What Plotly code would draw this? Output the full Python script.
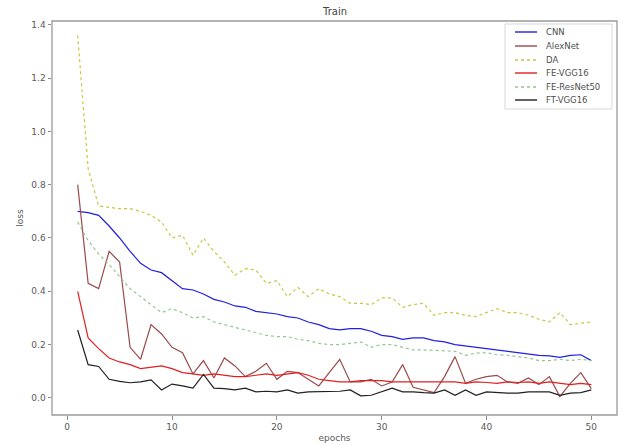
import plotly.graph_objects as go

epochs = list(range(1, 51))

cnn = [0.70, 0.695, 0.685, 0.645, 0.60, 0.55, 0.505, 0.48, 0.47, 0.44,
       0.41, 0.405, 0.39, 0.37, 0.36, 0.345, 0.34, 0.325, 0.32, 0.315,
       0.305, 0.30, 0.285, 0.275, 0.26, 0.255, 0.26, 0.26, 0.25, 0.235,
       0.23, 0.22, 0.225, 0.225, 0.215, 0.21, 0.20, 0.195, 0.19, 0.185,
       0.18, 0.175, 0.17, 0.165, 0.16, 0.158, 0.152, 0.16, 0.162, 0.14]

alexnet = [0.80, 0.43, 0.41, 0.55, 0.51, 0.19, 0.145, 0.275, 0.24, 0.19,
           0.17, 0.09, 0.14, 0.075, 0.15, 0.12, 0.08, 0.10, 0.13, 0.07,
           0.10, 0.095, 0.07, 0.045, 0.095, 0.145, 0.06, 0.06, 0.07, 0.045,
           0.06, 0.125, 0.04, 0.03, 0.02, 0.08, 0.155, 0.055, 0.07, 0.08,
           0.085, 0.06, 0.055, 0.075, 0.05, 0.08, 0.005, 0.055, 0.095, 0.035]

da = [1.36, 0.86, 0.72, 0.715, 0.71, 0.71, 0.70, 0.685, 0.66, 0.60,
      0.61, 0.535, 0.60, 0.55, 0.51, 0.46, 0.485, 0.48, 0.43, 0.44,
      0.38, 0.415, 0.38, 0.41, 0.39, 0.38, 0.355, 0.355, 0.35, 0.375,
      0.375, 0.34, 0.35, 0.355, 0.31, 0.32, 0.32, 0.31, 0.305, 0.32,
      0.335, 0.32, 0.32, 0.31, 0.295, 0.285, 0.32, 0.275, 0.28, 0.285]

fe_vgg16 = [0.40, 0.225, 0.185, 0.15, 0.135, 0.125, 0.11, 0.115, 0.12, 0.11,
            0.095, 0.09, 0.085, 0.09, 0.085, 0.08, 0.08, 0.085, 0.09, 0.085,
            0.09, 0.095, 0.085, 0.07, 0.065, 0.06, 0.06, 0.065, 0.065, 0.065,
            0.06, 0.06, 0.06, 0.058, 0.06, 0.058, 0.06, 0.055, 0.06, 0.058,
            0.055, 0.06, 0.058, 0.06, 0.055, 0.06, 0.055, 0.05, 0.055, 0.05]

fe_resnet50 = [0.66, 0.59, 0.54, 0.50, 0.455, 0.41, 0.38, 0.35, 0.32, 0.335,
               0.32, 0.30, 0.305, 0.285, 0.275, 0.265, 0.255, 0.245, 0.235, 0.23,
               0.23, 0.22, 0.215, 0.205, 0.20, 0.20, 0.205, 0.21, 0.19, 0.20,
               0.20, 0.19, 0.18, 0.18, 0.178, 0.175, 0.175, 0.16, 0.168, 0.17,
               0.162, 0.16, 0.155, 0.15, 0.14, 0.14, 0.145, 0.14, 0.145, 0.14]

ft_vgg16 = [0.255, 0.125, 0.118, 0.07, 0.062, 0.057, 0.06, 0.068, 0.03, 0.052,
            0.045, 0.037, 0.088, 0.037, 0.035, 0.03, 0.037, 0.023, 0.025, 0.023,
            0.03, 0.018, 0.023, 0.023, 0.023, 0.025, 0.03, 0.008, 0.01, 0.023,
            0.037, 0.023, 0.023, 0.02, 0.018, 0.03, 0.01, 0.03, 0.01, 0.023,
            0.02, 0.018, 0.018, 0.023, 0.023, 0.023, 0.01, 0.018, 0.02, 0.03]

series_names = ["CNN", "AlexNet", "DA", "FE-VGG16", "FE-ResNet50", "FT-VGG16"]
series_values = [cnn, alexnet, da, fe_vgg16, fe_resnet50, ft_vgg16]
series_colors = ["#2020e0", "#9a4a4a", "#c8c840", "#e02020", "#90c890", "#202020"]
series_dash = ["solid", "solid", "dot", "solid", "dot", "solid"]

W, H = 621, 445
ML, MR, MT, MB = 52, 4, 21, 30
PW, PH = W - ML - MR, H - MT - MB


def px(x):
    return (x - ML) / PW


def py(y):
    return 1 - (y - MT) / PH


fig = go.Figure()
for name, vals, color, dash in zip(series_names, series_values, series_colors, series_dash):
    fig.add_trace(go.Scatter(x=epochs, y=vals, mode="lines", name=name, showlegend=False,
                             line=dict(color=color, width=1.2, dash=dash)))

# axes frame
shapes = [dict(type="rect", xref="paper", yref="paper", x0=0, x1=1, y0=0, y1=1,
               line=dict(color="#9a9a9a", width=1.3), layer="above")]
# manual compact legend (matplotlib style)
shapes.append(dict(type="rect", xref="paper", yref="paper",
                   x0=px(505), x1=px(612), y0=py(109), y1=py(24),
                   line=dict(color="#d8d8d8", width=1), fillcolor="rgba(255,255,255,0.8)",
                   layer="above"))
annotations = []
row_y = [32, 46, 60, 73, 87, 100]
for name, color, dash, ry in zip(series_names, series_colors, series_dash, row_y):
    shapes.append(dict(type="line", xref="paper", yref="paper",
                       x0=px(515), x1=px(537), y0=py(ry), y1=py(ry),
                       line=dict(color=color, width=1.4, dash=dash), layer="above"))
    annotations.append(dict(text=name, xref="paper", yref="paper", x=px(544), y=py(ry),
                            xanchor="left", yanchor="middle", showarrow=False,
                            font=dict(family="DejaVu Sans", size=8.5, color="#505050")))

axis_common = dict(showline=False,
                   ticks="outside", ticklen=3.5, tickcolor="#8c8c8c", tickwidth=1,
                   showgrid=False, zeroline=False,
                   tickfont=dict(family="DejaVu Sans", size=9, color="#5a5a5a"))

fig.update_layout(
    template="none",
    width=W, height=H,
    margin=dict(l=ML, r=MR, t=MT, b=MB, autoexpand=False),
    paper_bgcolor="white", plot_bgcolor="white",
    title=dict(text="Train", x=px(335), xref="paper", xanchor="center",
               y=1 - 11 / H, yanchor="middle",
               font=dict(family="DejaVu Sans", size=10, color="#444444")),
    xaxis=dict(range=[-1.45, 52.45], tickvals=[0, 10, 20, 30, 40, 50], automargin=False,
               title=dict(text="epochs", standoff=3,
                          font=dict(family="DejaVu Sans", size=9, color="#5a5a5a")),
               **axis_common),
    yaxis=dict(range=[-0.064, 1.414], tickvals=[0.0, 0.2, 0.4, 0.6, 0.8, 1.0, 1.2, 1.4],
               tickformat=".1f", automargin=False,
               title=dict(text="loss", standoff=6,
                          font=dict(family="DejaVu Sans", size=9, color="#5a5a5a")),
               **axis_common),
    shapes=shapes,
    annotations=annotations,
    showlegend=False,
)

fig.write_html("out.html", config={"displayModeBar": False},
               post_script="document.body.style.margin='0px';document.body.style.overflow='hidden';")
